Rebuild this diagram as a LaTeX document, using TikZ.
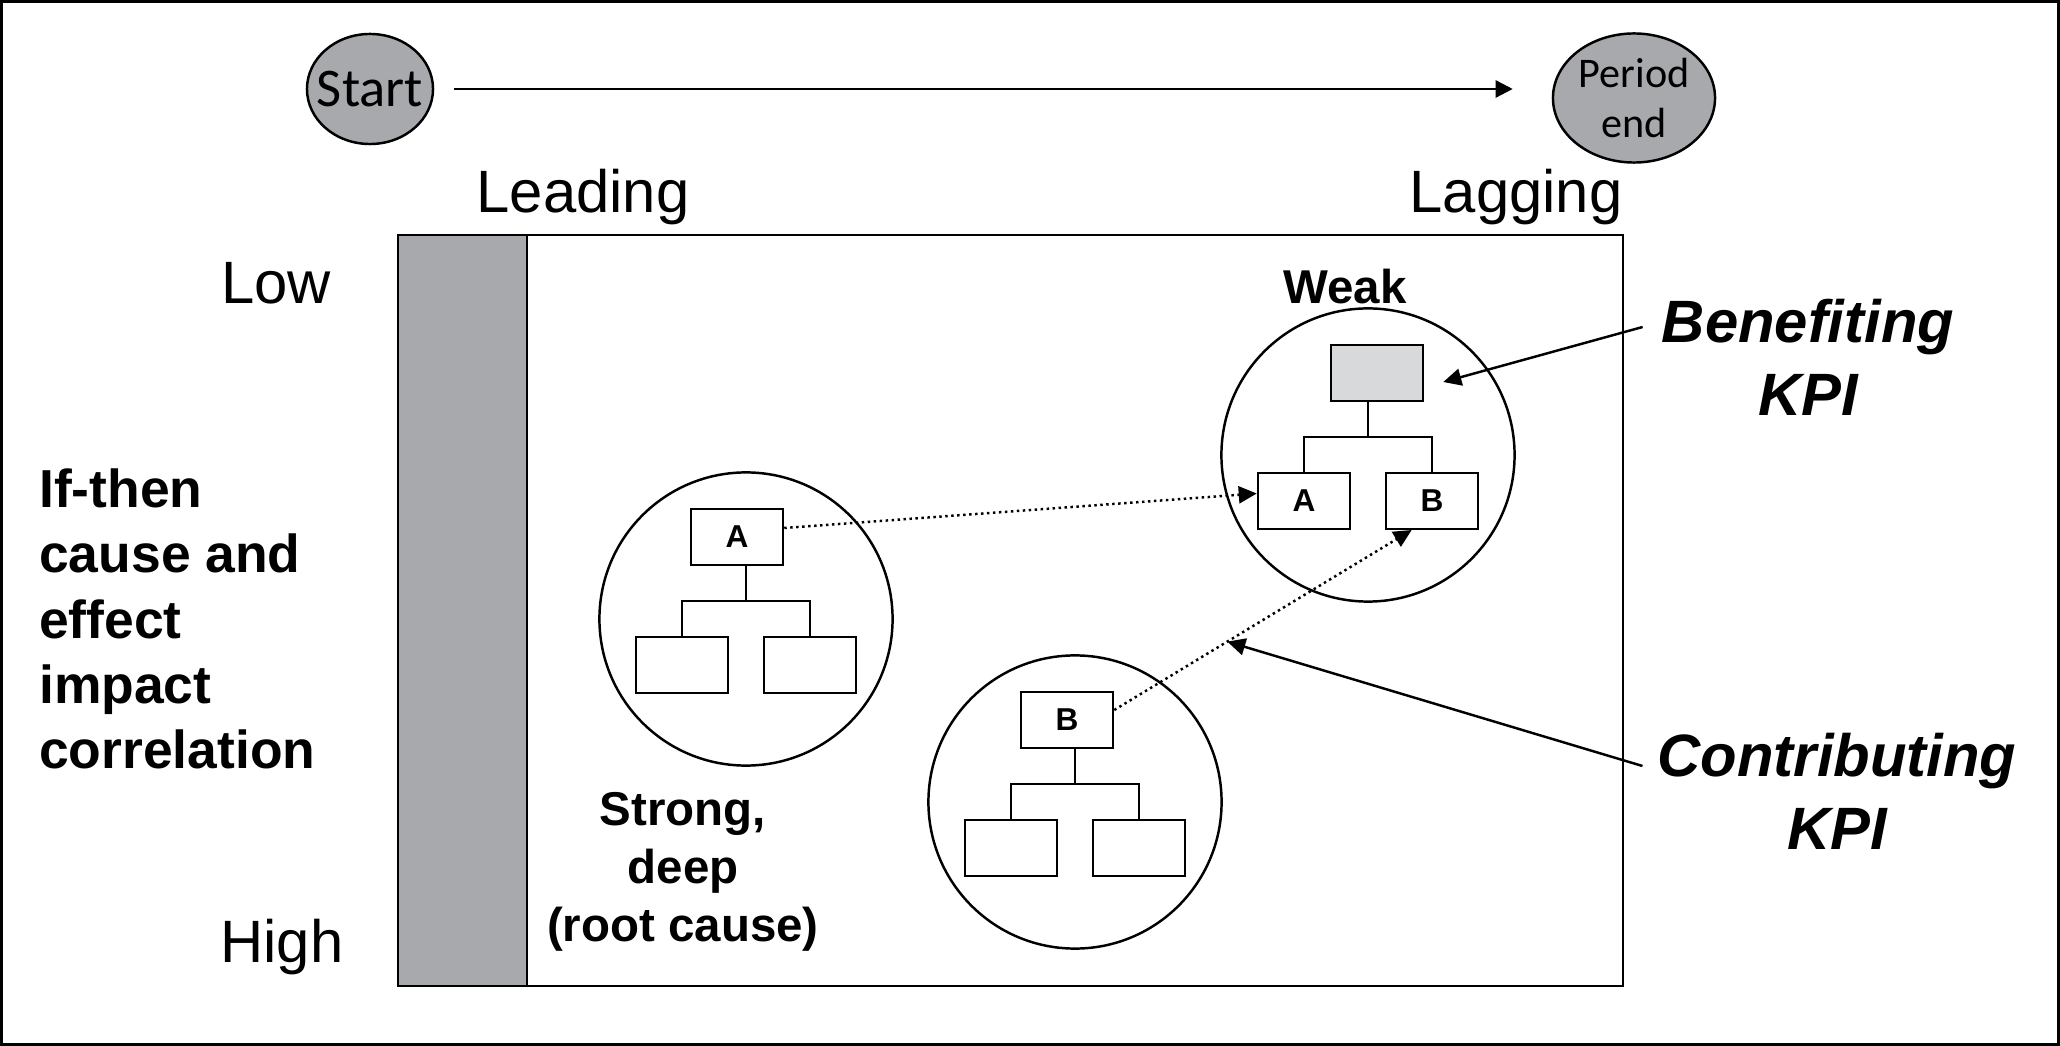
\documentclass[tikz,border=0pt]{standalone}
\usepackage{fontspec}
\setmainfont{Liberation Sans}
\newfontfamily\calibri{Carlito}
\usetikzlibrary{arrows.meta,positioning,shapes.geometric,calc}
\definecolor{kpigray}{RGB}{167,169,172}
\definecolor{kpilight}{RGB}{216,217,219}

\begin{document}
\begin{tikzpicture}[x=0.01cm,y=-0.01cm,line width=0.7pt,inner sep=0pt]
  \tikzstyle{scalelabel}=[anchor=base,font=\fontsize{17}{20}\selectfont]
  \tikzstyle{phasenode}=[ellipse,draw,fill=kpigray,align=center]
  \tikzstyle{zonecircle}=[circle,draw,minimum size=2.93cm]
  \tikzstyle{kpibox}=[draw,minimum width=0.92cm,minimum height=0.555cm,font=\fontsize{9}{10}\selectfont\bfseries]
  \tikzstyle{kpiarrow}=[-{Triangle[length=0.18cm,width=0.17cm]}]
  \tikzstyle{kpilabel}=[align=center,font=\fontsize{17}{20.8}\selectfont\bfseries\itshape]
  \tikzstyle{zonelabel}=[align=center,font=\fontsize{13.5}{16.5}\selectfont\bfseries]

  \useasboundingbox (0,0) rectangle (2060,1046);
  \draw[line width=0.8pt] (1.4,1.4) rectangle (2058.6,1044.6);

  % time line
  \node[phasenode,inner xsep=-0.1cm,minimum width=1.26cm,minimum height=1.10cm,font=\calibri\fontsize{15.5}{18}\selectfont] (start) at (370,89) {Start};
  \node[phasenode,minimum width=1.62cm,minimum height=1.29cm,font=\calibri\fontsize{12}{14.5}\selectfont] (period) at (1634,98) {Period\\end};
  \draw[-{Triangle[length=0.17cm,width=0.17cm]},shorten <=0.2cm,shorten >=0.39cm] (start.east) -- (start.east -| period.west);

  % scales
  \node[scalelabel] (leading) at (583,213) {Leading};
  \node[scalelabel] (lagging) at (1516,213) {Lagging};
  \node[scalelabel] (low) at (276,304) {Low};
  \node[scalelabel] (high) at (282,962) {High};
  \node[align=left,anchor=west,font=\fontsize{15.2}{18.6}\selectfont\bfseries] (ifthen) at (38,619)
    {If-then\\cause and\\effect\\impact\\correlation};

  % field
  \draw[fill=kpigray] (398,235) rectangle (527,986);
  \draw (398,235) rectangle (1623,986);

  % zones with their KPI trees
  \node[zonecircle] (strong) at (746,619) {};
  \node[zonecircle] (root) at (1075,802) {};
  \node[zonecircle] (weak) at (1368,455) {};
  \foreach \z/\dx/\shade/\lab/\la/\lb in {strong/-9/white/A/{}/{},root/-8/white/B/{}/{},weak/9/kpilight/{}/A/B}{
    \node[kpibox,fill=\shade] (\z-top) at ($(\z)+(\dx,-82)$) {\lab};
    \node[kpibox] (\z-l) at ($(\z)+(-64,46)$) {\la};
    \node[kpibox] (\z-r) at ($(\z)+(64,46)$) {\lb};
    \coordinate (\z-bar) at ($(\z)+(0,-18)$);
    \draw (\z-top.south -| \z) -- (\z-bar);
    \draw (\z-l.north) |- (\z-bar) -| (\z-r.north);
  }
  \node[zonelabel,anchor=base] (weaktxt) at (1345,304) {Weak};
  \node[zonelabel] (strongtxt) at (683,872) {Strong,\\deep\\(root cause)};

  % links
  \draw[kpiarrow,densely dotted] ([yshift=0.09cm]strong-top.east) -- ([yshift=0.075cm]weak-l.west);
  \draw[kpiarrow,densely dotted] ([yshift=0.1cm]root-top.east) -- ($(weak-r.south west)!0.285!(weak-r.south east)$)
    coordinate[pos=0.38] (hit);

  % KPI labels
  \node[kpilabel] (benefit) at (1808,357) {Benefiting\\KPI};
  \node[kpilabel] (contrib) at (1837,791) {Contributing\\KPI};
  \draw[kpiarrow] ([shift={(-18,-30)}]benefit.west) -- ([shift={(19,9)}]weak-top.east);
  \draw[kpiarrow] ([shift={(-14,-25)}]contrib.west) -- (hit);
\end{tikzpicture}
\end{document}
